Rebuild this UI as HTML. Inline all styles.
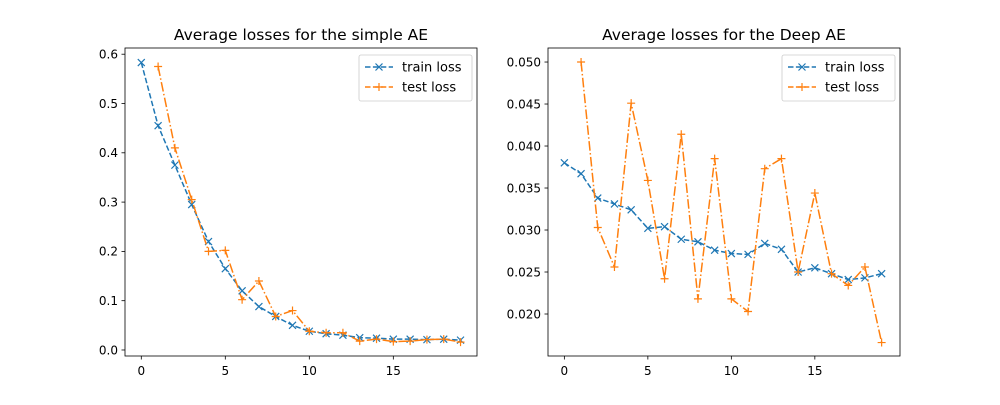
<!DOCTYPE html>
<html><head><meta charset="utf-8"><style>
body{margin:0;background:#fff;font-family:"Liberation Sans","DejaVu Sans",sans-serif}
svg text{font-family:"DejaVu Sans","Liberation Sans",sans-serif}
</style></head><body>
<svg id="c" width="1000" height="400"></svg>
<script>
const epochs=[0,1,2,3,4,5,6,7,8,9,10,11,12,13,14,15,16,17,18,19];
const simpleTrain=[0.583,0.455,0.375,0.295,0.22,0.165,0.12,0.088,0.068,0.05,0.038,0.033,0.03,0.025,0.024,0.022,0.022,0.021,0.022,0.02];
const simpleTest=[null,0.575,0.41,0.305,0.2,0.202,0.102,0.14,0.068,0.08,0.038,0.035,0.035,0.018,0.022,0.017,0.018,0.021,0.022,0.016];
const deepTrain=[0.038,0.0367,0.0338,0.0331,0.0324,0.0302,0.0304,0.0289,0.0286,0.0276,0.0272,0.0271,0.0284,0.0277,0.025,0.0255,0.0248,0.0241,0.0243,0.0248];
const deepTest=[null,0.05,0.0303,0.0256,0.0451,0.0359,0.0242,0.0414,0.0218,0.0385,0.0218,0.0203,0.0373,0.0385,0.025,0.0344,0.0248,0.0234,0.0256,0.0166];
const xTicks=[0,5,10,15];
const simpleYTicks=[0,0.1,0.2,0.3,0.4,0.5,0.6];
const deepYTicks=[0.02,0.025,0.03,0.035,0.04,0.045,0.05];
const NS="http://www.w3.org/2000/svg";
const svg=document.getElementById('c');
function mk(t,a,p){const e=document.createElementNS(NS,t);for(const k in a)e.setAttribute(k,a[k]);(p||svg).appendChild(e);return e;}
function panel(o){
  const g=mk('g',{});
  
  
  const L=o.x0,R=o.x0+352,T=48,B=356;
  const sx=v=>L+(v-o.xmin)/(o.xmax-o.xmin)*(R-L);
  const sy=v=>B-(v-o.ymin)/(o.ymax-o.ymin)*(B-T);
  const C=['#1f77b4','#ff7f0e'];
  [[o.train,C[0],'5.5,2.4','x'],[o.test,C[1],'9.6,2.4,1.5,2.4','+']].forEach((s,si)=>{
    let pts=[];s[0].forEach((v,i)=>{if(v!==null)pts.push([sx(epochs[i]),sy(v)]);});
    const pl=mk('polyline',{points:pts.map(p=>p.join(',')).join(' '),fill:'none',stroke:s[1],'stroke-width':1.5,'stroke-dasharray':s[2]},g);
    
    
    pts.forEach(p=>{
      const m=mk('path',{d:s[3]=='x'?`M${p[0]-3.5},${p[1]-3.5}L${p[0]+3.5},${p[1]+3.5}M${p[0]-3.5},${p[1]+3.5}L${p[0]+3.5},${p[1]-3.5}`:`M${p[0]-4},${p[1]}L${p[0]+4},${p[1]}M${p[0]},${p[1]-4}L${p[0]},${p[1]+4}`,stroke:s[1],'stroke-width':1.2,fill:'none'},g);
      
      
    });
  });
  const fr=mk('rect',{x:L,y:T,width:R-L,height:B-T,fill:'none',stroke:'#000','stroke-width':0.8},g);
  
  xTicks.forEach(t=>{const x=sx(t);mk('line',{x1:x,x2:x,y1:B,y2:B+3.5,stroke:'#000','stroke-width':0.8},g);
    const tx=mk('text',{x:x,y:B+19,'font-size':12,'text-anchor':'middle'},g);tx.textContent=t;
    });
  o.yt.forEach(t=>{const y=sy(t);mk('line',{x1:L-3.5,x2:L,y1:y,y2:y,stroke:'#000','stroke-width':0.8},g);
    const tx=mk('text',{x:L-7,y:y+4.3,'font-size':12,'text-anchor':'end'},g);tx.textContent=t.toFixed(o.dec);
    });
  const ti=mk('text',{x:(L+R)/2,y:T-8,'font-size':15.5,'text-anchor':'middle'},g);ti.textContent=o.title;
  
  const lx=R-120,ly=55;
  const lg=mk('g',{},g);
  mk('rect',{x:lx+2,y:ly,width:113,height:46,rx:2,fill:'#fff','fill-opacity':0.8,stroke:'#ccc','stroke-width':0.8},lg);
  [['train loss',C[0],'x','5.5,2.4'],['test loss',C[1],'+','5.5,2.4']].forEach((e,i)=>{
    const y=ly+12+i*20,x1=lx+8,x2=lx+36,xm=(x1+x2)/2;
    mk('line',{x1:x1,x2:x2,y1:y,y2:y,stroke:e[1],'stroke-width':1.5,'stroke-dasharray':e[3]},lg);
    mk('path',{d:e[2]=='x'?`M${xm-3.5},${y-3.5}L${xm+3.5},${y+3.5}M${xm-3.5},${y+3.5}L${xm+3.5},${y-3.5}`:`M${xm-4},${y}L${xm+4},${y}M${xm},${y-4}L${xm},${y+4}`,stroke:e[1],'stroke-width':1.2},lg);
    const t=mk('text',{x:lx+45,y:y+4.5,'font-size':13},lg);t.textContent=e[0];
    
  });
}
panel({name:'simple-ae-panel',x0:125,xmin:-0.97,xmax:19.98,ymin:-0.0122,ymax:0.6126,yt:simpleYTicks,dec:1,train:simpleTrain,test:simpleTest,title:'Average losses for the simple AE'});
panel({name:'deep-ae-panel',x0:548,xmin:-0.98,xmax:20.1,ymin:0.015,ymax:0.05167,yt:deepYTicks,dec:3,train:deepTrain,test:deepTest,title:'Average losses for the Deep AE'});
</script>
</body></html>
